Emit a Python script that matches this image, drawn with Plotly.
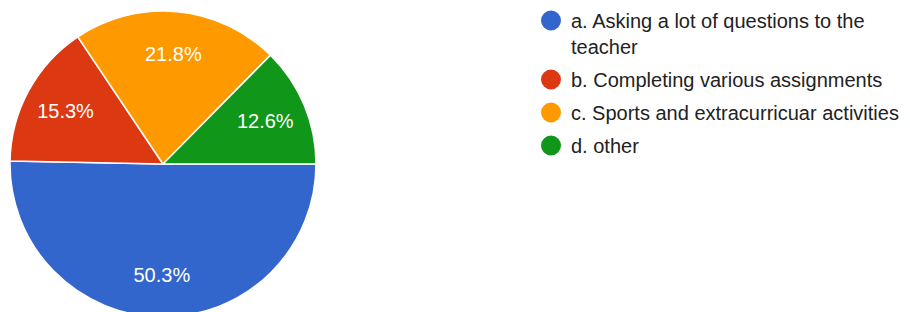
import plotly.graph_objects as go

labels = ["a. Asking a lot of questions to the<br>teacher",
          "b. Completing various assignments",
          "c. Sports and extracurricuar activities",
          "d. other"]
values = [50.3, 15.3, 21.8, 12.6]
colors = ["#3366CC", "#DC3912", "#FF9900", "#109618"]

W, H = 910, 312
FONT = "Liberation Sans, Arial, sans-serif"
dom = dict(x=[2 / W, 308 / W], y=[0, 1])

fig = go.Figure()
# coloured slices
fig.add_trace(go.Pie(
    labels=labels, values=values, sort=False, direction="clockwise", rotation=90,
    marker=dict(colors=colors, line=dict(color="white", width=1.5)),
    textinfo="none", showlegend=False, hoverinfo="label+percent", domain=dom,
))
# percentage labels (ring overlay to push labels outward like the original)
fig.add_trace(go.Pie(
    labels=labels, values=values, sort=False, direction="clockwise", rotation=90,
    hole=0.45,
    marker=dict(colors=["rgba(0,0,0,0)"] * len(values), line=dict(width=0)),
    texttemplate="%{percent:.1%}", textposition="inside",
    insidetextorientation="horizontal",
    textfont=dict(color="white", size=20, family=FONT),
    showlegend=False, hoverinfo="skip", domain=dom,
))
for i, (lab, col) in enumerate(zip(labels, colors)):
    fig.add_trace(go.Scatter(x=[None], y=[None], mode="markers", name=lab,
                             legendgroup=str(i),
                             marker=dict(color=col, size=16, symbol="circle",
                                         line=dict(color=col, width=4))))

fig.update_layout(
    width=W, height=H, margin=dict(l=0, r=0, t=0, b=0, autoexpand=False),
    paper_bgcolor="white", plot_bgcolor="white",
    xaxis=dict(visible=False), yaxis=dict(visible=False),
    legend=dict(x=523 / W, y=1 + 7 / H, xanchor="left", yanchor="top",
                font=dict(size=20, color="#222222", family=FONT),
                valign="top", tracegroupgap=4,
                bgcolor="rgba(0,0,0,0)"),
)
fig.write_html("out.html")
